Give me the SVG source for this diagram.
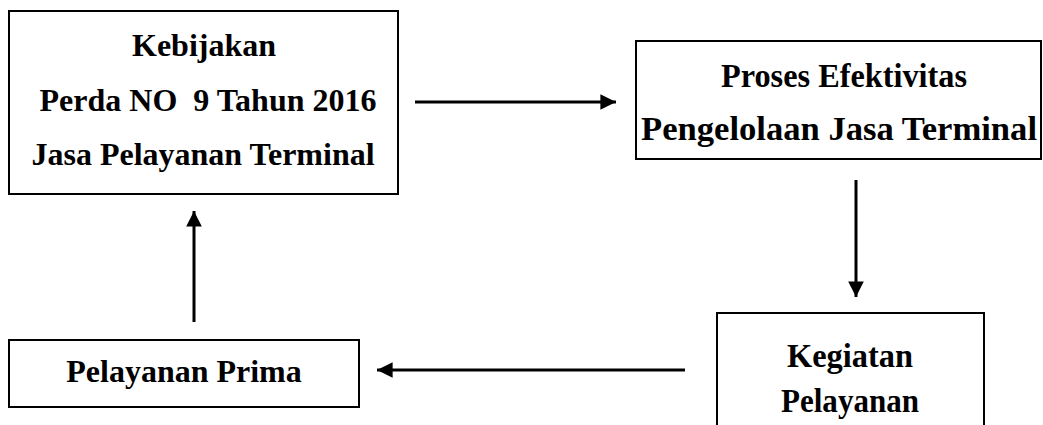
<svg xmlns="http://www.w3.org/2000/svg" width="1043" height="425" viewBox="0 0 1043 425">
<style>
.box{fill:#fff;stroke:#000;stroke-width:2}
.t{font-family:"Liberation Serif","Times New Roman",serif;font-weight:bold;font-size:32px;fill:#000;text-anchor:middle}
.n{font-size:34px}
.c{stroke:#000;stroke-width:3;fill:none}
</style>
<defs>
<marker id="ah" viewBox="0 0 10 10" refX="10" refY="5" markerWidth="5.8" markerHeight="5.2" orient="auto" markerUnits="strokeWidth">
<path d="M0,0 L10,5 L0,10 Z" fill="#000"/>
</marker>
</defs>
<rect width="1043" height="425" fill="#fff"/>
<g id="kebijakan">
<rect class="box" x="9" y="11" width="389" height="183"/>
<text class="t" x="204" y="56">Kebijakan</text>
<text class="t" x="208" y="111" xml:space="preserve">Perda NO  9 Tahun 2016</text>
<text class="t" x="203" y="165">Jasa Pelayanan Terminal</text>
</g>
<g id="proses">
<rect class="box" x="636" y="41" width="405" height="118"/>
<text class="t n" x="844" y="87" textLength="246" lengthAdjust="spacingAndGlyphs">Proses Efektivitas</text>
<text class="t n" x="839" y="140" textLength="396" lengthAdjust="spacingAndGlyphs">Pengelolaan Jasa Terminal</text>
</g>
<g id="kegiatan">
<path class="box" d="M717,430 V313 H984 V430"/>
<text class="t n" x="850" y="367" textLength="126" lengthAdjust="spacingAndGlyphs">Kegiatan</text>
<text class="t n" x="850" y="412" textLength="138" lengthAdjust="spacingAndGlyphs">Pelayanan</text>
</g>
<g id="prima">
<rect class="box" x="9" y="340" width="350" height="67"/>
<text class="t" x="184" y="382">Pelayanan Prima</text>
</g>
<g id="connectors">
<line class="c" x1="415" y1="102" x2="616" y2="102" marker-end="url(#ah)"/>
<line class="c" x1="856" y1="180" x2="856" y2="297" marker-end="url(#ah)"/>
<line class="c" x1="685" y1="370" x2="377" y2="370" marker-end="url(#ah)"/>
<line class="c" x1="194" y1="322" x2="194" y2="211" marker-end="url(#ah)"/>
</g>
</svg>
